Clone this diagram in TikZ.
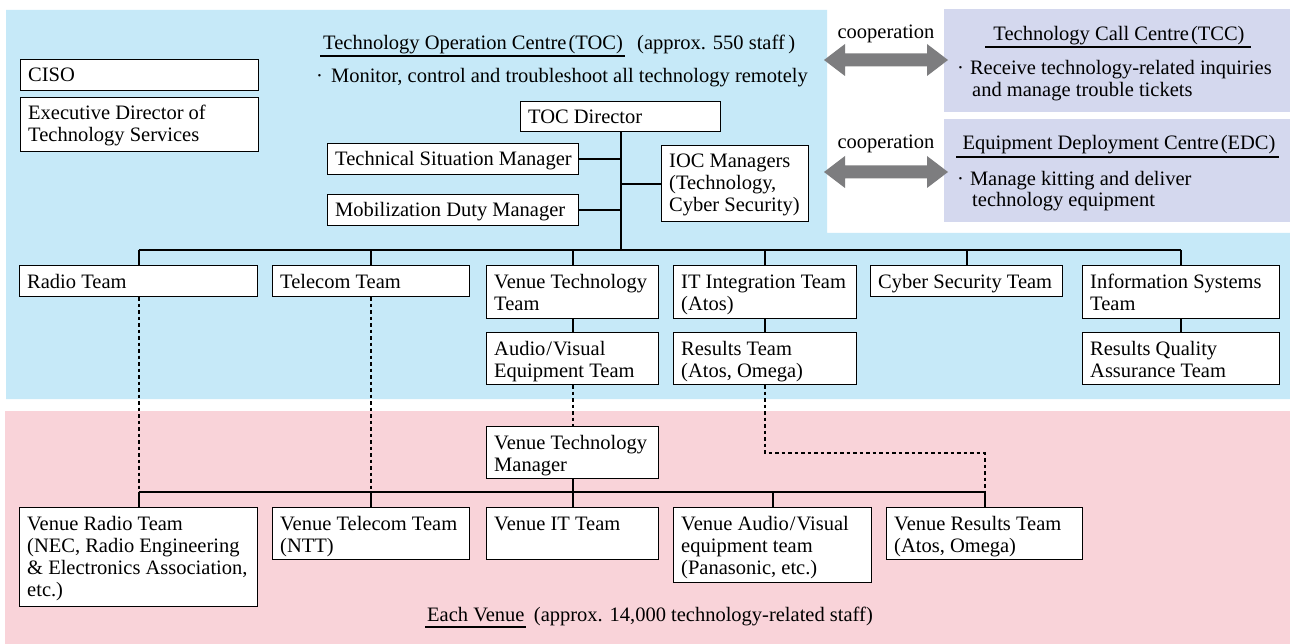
\documentclass[tikz,border=0pt]{standalone}
\usepackage{fontspec}
\setmainfont{Liberation Serif}
\usetikzlibrary{calc}

\definecolor{tocblue}{RGB}{198,233,248}
\definecolor{centrepurple}{RGB}{212,216,238}
\definecolor{venuepink}{RGB}{249,211,217}
\definecolor{arrowgrey}{RGB}{125,125,127}

\tikzset{
  boxframe/.style={draw, fill=white, line width=1.2pt, inner sep=0pt, anchor=north west},
  boxtext/.style={anchor=north west, inner sep=0pt, align=left},
  plaintext/.style={inner sep=0pt},
  link/.style={line width=1.9pt},
  dotlink/.style={line width=1.9pt, dash pattern=on 3.5pt off 3pt},
  uline/.style={line width=1.2pt},
}

% box: name, left, top, right, bottom, text
\newcommand\orgbox[6]{%
  \node[boxframe, minimum width={#4pt-#2pt}, minimum height={#5pt-#3pt}] (#1) at (#2,#3) {};
  \node[boxtext] at ($(#1.north west)+(8,7.4)$) {\strut #6};%
}
% broad two-headed grey arrow centred at height #1
\newcommand\cooparrow[1]{%
  \fill[arrowgrey] (824,#1) -- (845,#1-16) -- (845,#1-6.5) -- (927,#1-6.5) -- (927,#1-16)
    -- (948,#1) -- (927,#1+16) -- (927,#1+6.5) -- (845,#1+6.5) -- (845,#1+16) -- cycle;%
}

\begin{document}
\begin{tikzpicture}[x=1pt, y=-1pt, font=\fontsize{20.5}{22}\selectfont]
\useasboundingbox (0,0) rectangle (1290,644);
\fill[white] (0,0) rectangle (1290,644);

% panels
\fill[tocblue] (6,10) -- (827,10) -- (827,233) -- (1290,233) -- (1290,399) -- (6,399) -- cycle;
\fill[centrepurple] (944,9) rectangle (1290,112);
\fill[centrepurple] (944,119) rectangle (1290,222);
\fill[venuepink] (5,411) rectangle (1290,644);

% cooperation arrows
\cooparrow{60}
\cooparrow{172}
\node[plaintext, anchor=base] at (886,39) {cooperation};
\node[plaintext, anchor=base] at (886,149) {cooperation};

% TOC heading
\node[plaintext, anchor=base west] (toctitle) at (323,50) {Technology Operation Centre\kern2pt(TOC)};
\draw[uline] ($(toctitle.base west)+(-3,6)$) -- ($(toctitle.base east)+(2,6)$);
\node[plaintext, anchor=base west] at ($(toctitle.base east)+(14,0)$) {(approx. 550 staff\,)};
\node[plaintext, anchor=base west] at (316,83) {·\hspace{8pt}Monitor, control and troubleshoot all technology remotely};

% TCC panel text
\node[plaintext, anchor=base] (tcctitle) at (1119,41) {Technology Call Centre\kern2pt(TCC)};
\draw[uline] ($(tcctitle.base west)+(-8,6)$) -- ($(tcctitle.base east)+(6,6)$);
\node[plaintext, anchor=base west] at (957,75) {·\hspace{6pt}Receive technology-related inquiries};
\node[plaintext, anchor=base west] at (972,97) {and manage trouble tickets};

% EDC panel text
\node[plaintext, anchor=base] (edctitle) at (1119,150) {Equipment Deployment Centre\kern2pt(EDC)};
\draw[uline] ($(edctitle.base west)+(-6,7)$) -- ($(edctitle.base east)+(3,7)$);
\node[plaintext, anchor=base west] at (957,186) {·\hspace{6pt}Manage kitting and deliver};
\node[plaintext, anchor=base west] at (972,207) {technology equipment};

% leadership
\orgbox{ciso}{20}{59}{258}{90}{CISO}
\orgbox{execdir}{20}{97}{258}{151}{Executive Director of\\Technology Services}
\orgbox{tocdir}{520}{101}{720}{131}{TOC Director}
\orgbox{tsm}{327}{143}{578}{174}{Technical Situation Manager}
\orgbox{mdm}{327}{194}{578}{225}{Mobilization Duty Manager}
\orgbox{ioc}{661}{145}{808}{221}{IOC Managers\\(Technology,\\Cyber Security)}

% TOC teams
\orgbox{radio}{19}{265}{257}{296}{Radio Team}
\orgbox{telecom}{272}{265}{469}{296}{Telecom Team}
\orgbox{vtt}{486}{265}{658}{318}{Venue Technology\\Team}
\orgbox{itint}{673}{265}{856}{318}{IT Integration Team\\(Atos)}
\orgbox{cyber}{870}{265}{1062}{296}{Cyber Security Team}
\orgbox{infosys}{1082}{265}{1279}{318}{Information Systems\\Team}
\orgbox{av}{486}{332}{658}{384}{Audio\kern1pt/\kern1pt Visual\\Equipment Team}
\orgbox{results}{673}{332}{856}{384}{Results Team\\(Atos, Omega)}
\orgbox{rqa}{1082}{332}{1279}{384}{Results Quality\\Assurance Team}

% venue teams
\orgbox{vtm}{486}{426}{658}{478}{Venue Technology\\Manager}
\orgbox{vradio}{19}{507}{257}{606}{Venue Radio Team\\(NEC, Radio Engineering\\\& Electronics Association,\\etc.)}
\orgbox{vtelecom}{272}{507}{469}{559}{Venue Telecom Team\\(NTT)}
\orgbox{vit}{486}{507}{658}{559}{Venue IT Team}
\orgbox{vav}{673}{507}{871}{582}{Venue Audio\kern1pt/\kern1pt Visual\\equipment team\\(Panasonic, etc.)}
\orgbox{vresults}{886}{507}{1082}{559}{Venue Results Team\\(Atos, Omega)}

% venue footer
\node[plaintext, anchor=base west] (eachvenue) at (427,621) {Each Venue};
\draw[uline] ($(eachvenue.base west)+(-2,6)$) -- ($(eachvenue.base east)+(1,6)$);
\node[plaintext, anchor=base west] at ($(eachvenue.base east)+(9,0)$) {(approx. 14,000 technology-related staff)};

% reporting lines
\coordinate (topbus) at (0,250);
\coordinate (venuebus) at (0,492);
\draw[link] (tocdir.south) -- (tocdir.south |- topbus);
\draw[link] (tsm.east) -- (tocdir.south |- tsm.east);
\draw[link] (mdm.east) -- (tocdir.south |- mdm.east);
\draw[link] (ioc.west) -- (tocdir.south |- ioc.west);
\draw[link] (radio.north |- topbus) -- (infosys.north |- topbus);
\foreach \t in {radio,telecom,vtt,itint,cyber,infosys}
  \draw[link] (\t.north) -- (\t.north |- topbus);
\draw[link] (vtt.south) -- (av.north);
\draw[link] (itint.south) -- (results.north);
\draw[link] (infosys.south) -- (rqa.north);

\draw[link] (vtm.south) -- (vtm.south |- venuebus);
\draw[link] (vradio.north |- venuebus) -- (vresults.north |- venuebus);
\foreach \t in {vradio,vtelecom,vit,vav,vresults}
  \draw[link] (\t.north) -- (\t.north |- venuebus);

% coordination lines to the venues
\draw[dotlink] (radio.south) -- (radio.south |- venuebus);
\draw[dotlink] (telecom.south) -- (telecom.south |- venuebus);
\draw[dotlink] (av.south) -- (vtm.north);
\draw[dotlink] (results.south) -- ++(0,68) -| (vresults.north |- venuebus);
\end{tikzpicture}
\end{document}
